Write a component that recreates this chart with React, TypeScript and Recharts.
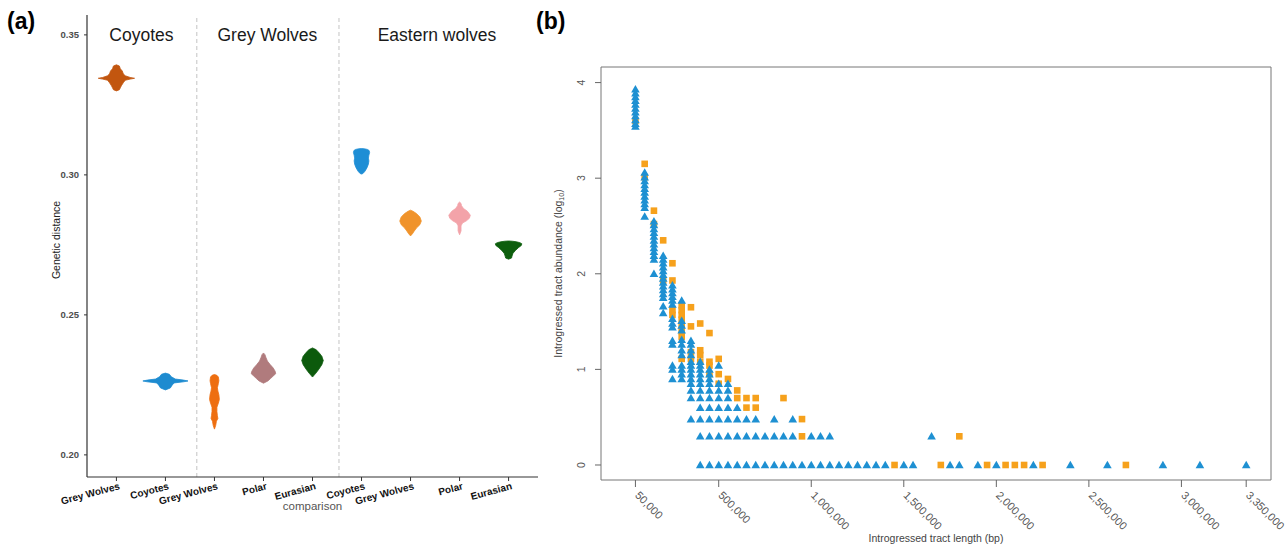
import React from 'react';
import {
  ComposedChart,
  Area,
  XAxis,
  YAxis,
  ReferenceLine,
  ReferenceDot,
  ScatterChart,
  Scatter,
  ReferenceArea,
} from 'recharts';

const FONT = '"Liberation Sans", Arial, sans-serif';

// ---- panel (a): genetic distance violins ----
const comparisonLabels = ['Grey Wolves', 'Coyotes', 'Grey Wolves', 'Polar', 'Eurasian', 'Coyotes', 'Grey Wolves', 'Polar', 'Eurasian'];
const groupTitles = ['Coyotes', 'Grey Wolves', 'Eastern wolves'];
const groupTitleAt = [1.51, 4.08, 7.54];
const groupDividers = [2.64, 5.54];
const distanceTicks = [0.2, 0.25, 0.3, 0.35];
const violinColors = ['#C2560F', '#1D8BD0', '#EE6E10', '#B07B7D', '#0C5A0C', '#1E8ED5', '#F0932B', '#F3A3A9', '#0D5E0D'];

// each outline: [genetic distance, half width in category units]
const coyVsGrey = [[0.3393, 0], [0.3389, 0.06], [0.3379, 0.08], [0.3371, 0.12], [0.3361, 0.14], [0.3354, 0.18], [0.3348, 0.28], [0.3345, 0.37], [0.3342, 0.28], [0.3338, 0.18], [0.3329, 0.14], [0.3318, 0.1], [0.3311, 0.08], [0.3304, 0.06], [0.33, 0]];
const coyVsCoy = [[0.2292, 0], [0.2288, 0.08], [0.2279, 0.12], [0.2271, 0.2], [0.2267, 0.37], [0.2264, 0.46], [0.2261, 0.37], [0.2257, 0.18], [0.225, 0.14], [0.2239, 0.1], [0.2232, 0]];
const greyVsGrey = [[0.2287, 0], [0.2284, 0.05], [0.2278, 0.08], [0.2265, 0.09], [0.2255, 0.08], [0.224, 0.06], [0.2228, 0.07], [0.2215, 0.09], [0.2198, 0.1], [0.2185, 0.08], [0.217, 0.05], [0.2155, 0.05], [0.214, 0.06], [0.213, 0.07], [0.212, 0.04], [0.2105, 0.025], [0.2092, 0]];
const greyVsPolar = [[0.2364, 0], [0.2358, 0.03], [0.2348, 0.05], [0.2335, 0.08], [0.2322, 0.14], [0.231, 0.2], [0.2298, 0.24], [0.229, 0.25], [0.2282, 0.2], [0.2272, 0.14], [0.2264, 0.09], [0.2256, 0]];
const greyVsEurasian = [[0.2382, 0], [0.2376, 0.07], [0.2366, 0.13], [0.2352, 0.19], [0.2337, 0.22], [0.2322, 0.19], [0.2306, 0.13], [0.2292, 0.07], [0.2278, 0]];
const eastVsCoy = [[0.3094, 0], [0.3093, 0.06], [0.3091, 0.12], [0.3087, 0.155], [0.308, 0.165], [0.307, 0.15], [0.306, 0.14], [0.305, 0.15], [0.3038, 0.14], [0.3025, 0.11], [0.3013, 0.07], [0.3005, 0.03], [0.3003, 0]];
const eastVsGrey = [[0.2874, 0], [0.287, 0.05], [0.2862, 0.12], [0.285, 0.19], [0.2835, 0.22], [0.2822, 0.19], [0.281, 0.12], [0.2798, 0.07], [0.279, 0.04], [0.2782, 0]];
const eastVsPolar = [[0.2903, 0], [0.2898, 0.03], [0.289, 0.04], [0.288, 0.08], [0.287, 0.16], [0.2856, 0.22], [0.2845, 0.2], [0.2836, 0.14], [0.2828, 0.06], [0.2818, 0.03], [0.28, 0.03], [0.2786, 0]];
const eastVsEurasian = [[0.2764, 0], [0.2763, 0.08], [0.2761, 0.16], [0.2758, 0.23], [0.2754, 0.27], [0.2748, 0.26], [0.274, 0.2], [0.273, 0.14], [0.272, 0.09], [0.271, 0.07], [0.2703, 0.06], [0.2699, 0]];

const violinOutlines = [coyVsGrey, coyVsCoy, greyVsGrey, greyVsPolar, greyVsEurasian, eastVsCoy, eastVsGrey, eastVsPolar, eastVsEurasian];

const violins = violinOutlines.map((outline, i) => ({
  color: violinColors[i],
  data: outline.map(([v, hw]) => ({ v, band: [i + 1 - hw, i + 1 + hw] })),
}));

// ---- panel (b): introgressed tracts, [length kb, log10 abundances] ----
const lengthTicks = [50, 500, 1000, 1500, 2000, 2500, 3000, 3350];
const abundanceTicks = [0, 1, 2, 3, 4];

const triangleColumns: [number, number[]][] = [
  [50, [3.93, 3.89, 3.85, 3.81, 3.77, 3.73, 3.69, 3.65, 3.61, 3.57, 3.54]],
  [100, [3.06, 3.01, 2.97, 2.93, 2.89, 2.85, 2.81, 2.77, 2.73, 2.69, 2.6]],
  [150, [2.55, 2.51, 2.47, 2.43, 2.39, 2.35, 2.31, 2.27, 2.23, 2.19, 2.15, 2.0]],
  [200, [2.19, 2.15, 2.11, 2.07, 2.03, 1.99, 1.95, 1.91, 1.87, 1.83, 1.79, 1.75, 1.66, 1.59]],
  [250, [1.88, 1.84, 1.8, 1.76, 1.72, 1.68, 1.53, 1.48, 1.44, 1.3, 1.26, 1.04, 1.0, 0.9]],
  [300, [1.72, 1.51, 1.46, 1.41, 1.31, 1.26, 1.2, 1.15, 1.04, 1.0, 0.95, 0.9]],
  [350, [1.3, 1.26, 1.2, 1.15, 1.08, 1.04, 1.0, 0.95, 0.9, 0.85, 0.78, 0.7, 0.48]],
  [400, [1.08, 1.04, 1.0, 0.95, 0.9, 0.85, 0.78, 0.7, 0.6, 0.48, 0.3, 0]],
  [450, [1.0, 0.95, 0.9, 0.85, 0.78, 0.7, 0.6, 0.48, 0.3, 0]],
  [500, [1.04, 0.85, 0.78, 0.7, 0.6, 0.48, 0.3, 0]],
  [550, [0.85, 0.78, 0.7, 0.6, 0.48, 0.3, 0]],
  [600, [0.6, 0.48, 0.3, 0]],
  [650, [0.48, 0.3, 0]],
  [700, [0.48, 0.3, 0]],
  [750, [0.3, 0]],
  [800, [0.48, 0.3, 0]],
  [850, [0.3, 0]],
  [900, [0.48, 0.3, 0]],
  [950, [0]],
  [1000, [0.3, 0]],
  [1050, [0.3, 0]],
  [1100, [0.3, 0]],
  [1150, [0]], [1200, [0]], [1250, [0]], [1300, [0]], [1350, [0]], [1400, [0]],
  [1500, [0]], [1550, [0]], [1650, [0.3]], [1750, [0]], [1800, [0]], [1900, [0]],
  [2000, [0]], [2200, [0]], [2400, [0]], [2600, [0]], [2900, [0]], [3100, [0]], [3350, [0]],
];

const squareColumns: [number, number[]][] = [
  [50, [3.6]],
  [100, [3.15, 3.01]],
  [150, [2.66, 2.52]],
  [200, [2.35, 1.93]],
  [250, [2.11, 1.93, 1.62, 1.57]],
  [300, [1.67, 1.62, 1.57, 1.52, 1.46, 1.4, 1.34, 1.11]],
  [350, [1.65, 1.45, 1.18, 1.11]],
  [400, [1.48, 1.2, 1.15, 1.08]],
  [450, [1.38, 1.08, 1.04, 0.95]],
  [500, [1.11, 0.95, 0.85]],
  [550, [0.9]],
  [600, [0.78, 0.7]],
  [650, [0.7, 0.6]],
  [700, [0.7, 0.6]],
  [850, [0.7]],
  [950, [0.48, 0.3]],
  [1450, [0]], [1700, [0]], [1800, [0.3]], [1950, [0]], [2050, [0]], [2100, [0]], [2150, [0]], [2250, [0]], [2700, [0]],
];

const flatten = (cols: [number, number[]][]) =>
  cols.flatMap(([len, vals]) => vals.map((ab) => ({ len, ab })));

const triangleData = flatten(triangleColumns);
const squareData = flatten(squareColumns);

const BLUE = '#1E90D2';
const ORANGE = '#F6A11C';

const Triangle = (p: any) => (
  <polygon
    points={`${p.cx},${p.cy - 4.2} ${p.cx - 4.3},${p.cy + 3.3} ${p.cx + 4.3},${p.cy + 3.3}`}
    fill={BLUE}
  />
);

const Square = (p: any) => <rect x={p.cx - 3.3} y={p.cy - 3.3} width={6.6} height={6.6} fill={ORANGE} />;

const CatTick = ({ x, y, payload }: any) => (
  <text
    x={x + 4}
    y={y + 6}
    textAnchor="end"
    transform={`rotate(-15 ${x + 4} ${y + 6})`}
    fontSize={10}
    fontWeight="bold"
    fill="#111"
    fontFamily={FONT}
  >
    {comparisonLabels[payload.value - 1]}
  </text>
);

const LenTick = ({ x, y, payload }: any) => (
  <text
    x={x - 1}
    y={y + 7}
    transform={`rotate(45 ${x - 1} ${y + 7})`}
    fontSize={11}
    fill="#555"
    fontFamily={FONT}
  >
    {(payload.value * 1000).toLocaleString('en-US')}
  </text>
);

const AbTick = ({ x, y, payload }: any) => (
  <text
    x={x}
    y={y}
    transform={`rotate(-90 ${x} ${y})`}
    textAnchor="middle"
    fontSize={10.5}
    fill="#555"
    fontFamily={FONT}
  >
    {payload.value}
  </text>
);

function PanelA() {
  return (
    <ComposedChart
      layout="vertical"
      width={545}
      height={546}
      margin={{ top: 15, right: 7, left: 0, bottom: 0 }}
      style={{ fontFamily: FONT }}
    >
      <XAxis
        type="number"
        domain={[0.4, 9.6]}
        ticks={[1, 2, 3, 4, 5, 6, 7, 8, 9]}
        allowDataOverflow
        height={69}
        tick={<CatTick />}
        tickSize={4}
        stroke="#333"
        tickLine={{ stroke: '#333' }}
        axisLine={{ stroke: '#333', strokeWidth: 1.2 }}
        label={{
          content: ({ viewBox }: any) => (
            <text x={viewBox.x + viewBox.width / 2} y={viewBox.y + 33} textAnchor="middle" fontSize={11.5} fill="#555" fontFamily={FONT}>
              comparison
            </text>
          ),
        }}
      />
      <YAxis
        type="number"
        dataKey="v"
        reversed
        domain={[0.1921, 0.3571]}
        ticks={distanceTicks}
        allowDataOverflow
        width={87}
        tickSize={3}
        tickMargin={5}
        tickFormatter={(v: number) => v.toFixed(2)}
        tick={{ fontSize: 9.5, fontWeight: 'bold', fill: '#4D4D4D', fontFamily: FONT }}
        tickLine={{ stroke: '#333' }}
        axisLine={{ stroke: '#333', strokeWidth: 1.2 }}
        label={{
          content: ({ viewBox }: any) => {
            const cx = viewBox.x + 56;
            const cy = viewBox.y + viewBox.height / 2 - 6;
            return (
              <text x={cx} y={cy} transform={`rotate(-90 ${cx} ${cy})`} textAnchor="middle" dominantBaseline="central" fontSize={10.5} fill="#222" fontFamily={FONT}>
                Genetic distance
              </text>
            );
          },
        }}
      />
      {groupDividers.map((d) => (
        <ReferenceLine key={d} x={d} stroke="#c4c4c4" strokeDasharray="4 3" />
      ))}
      {violins.map((vl, i) => (
        <Area
          key={i}
          data={vl.data}
          dataKey="band"
          type="linear"
          stroke={vl.color}
          strokeWidth={0.8}
          fill={vl.color}
          fillOpacity={1}
          isAnimationActive={false}
          activeDot={false}
          dot={false}
        />
      ))}
      {groupTitles.map((t, i) => (
        <ReferenceDot
          key={t}
          x={groupTitleAt[i]}
          y={0.35}
          r={0}
          fill="none"
          stroke="none"
          label={{
            content: ({ viewBox }: any) => (
              <text
                x={viewBox.x + viewBox.width / 2}
                y={viewBox.y + viewBox.height / 2}
                textAnchor="middle"
                dominantBaseline="central"
                fontSize={17.5}
                fill="#1a1a1a"
                fontFamily={FONT}
              >
                {t}
              </text>
            ),
          }}
        />
      ))}
    </ComposedChart>
  );
}

function PanelB() {
  return (
    <ScatterChart width={742} height={546} margin={{ top: 67, right: 16, left: 0, bottom: 0 }} style={{ fontFamily: FONT }}>
      <XAxis
        type="number"
        dataKey="len"
        domain={[-136, 3484]}
        ticks={lengthTicks}
        allowDataOverflow
        height={66}
        tickSize={7}
        tickMargin={2}
        tick={<LenTick />}
        tickLine={{ stroke: '#666' }}
        axisLine={false}
        label={{
          content: ({ viewBox }: any) => (
            <text x={viewBox.x + viewBox.width / 2} y={viewBox.y + 62} textAnchor="middle" fontSize={10.5} fill="#444" fontFamily={FONT}>
              Introgressed tract length (bp)
            </text>
          ),
        }}
      />
      <YAxis
        type="number"
        dataKey="ab"
        domain={[-0.157, 4.163]}
        ticks={abundanceTicks}
        allowDataOverflow
        width={56}
        tickSize={6}
        tickMargin={10}
        tick={<AbTick />}
        tickLine={{ stroke: '#666' }}
        axisLine={false}
        label={{
          content: ({ viewBox }: any) => {
            const cx = viewBox.x + 13;
            const cy = viewBox.y + viewBox.height / 2;
            return (
              <text x={cx} y={cy} transform={`rotate(-90 ${cx} ${cy})`} textAnchor="middle" dominantBaseline="central" fontSize={10.5} fill="#444" fontFamily={FONT}>
                Introgressed tract abundance (log
                <tspan fontSize={7} dy={3}>10</tspan>
                <tspan dy={-3}>)</tspan>
              </text>
            );
          },
        }}
      />
      <ReferenceArea x1={-136} x2={3484} y1={-0.157} y2={4.163} fill="none" stroke="#777" strokeWidth={1} ifOverflow="visible" />
      <Scatter data={squareData} shape={<Square />} isAnimationActive={false} />
      <Scatter data={triangleData} shape={<Triangle />} isAnimationActive={false} />
    </ScatterChart>
  );
}

export default function App() {
  return (
    <div style={{ position: 'absolute', left: 0, top: 0, width: 1287, height: 546, background: '#fff', fontFamily: FONT }}>
      <div style={{ position: 'absolute', left: 0, top: 0 }}>
        <PanelA />
      </div>
      <div style={{ position: 'absolute', left: 545, top: 0 }}>
        <PanelB />
      </div>
      <div style={{ position: 'absolute', left: 7, top: 8, fontSize: 23, fontWeight: 'bold', color: '#000' }}>(a)</div>
      <div style={{ position: 'absolute', left: 536, top: 8, fontSize: 23, fontWeight: 'bold', color: '#000' }}>(b)</div>
    </div>
  );
}
